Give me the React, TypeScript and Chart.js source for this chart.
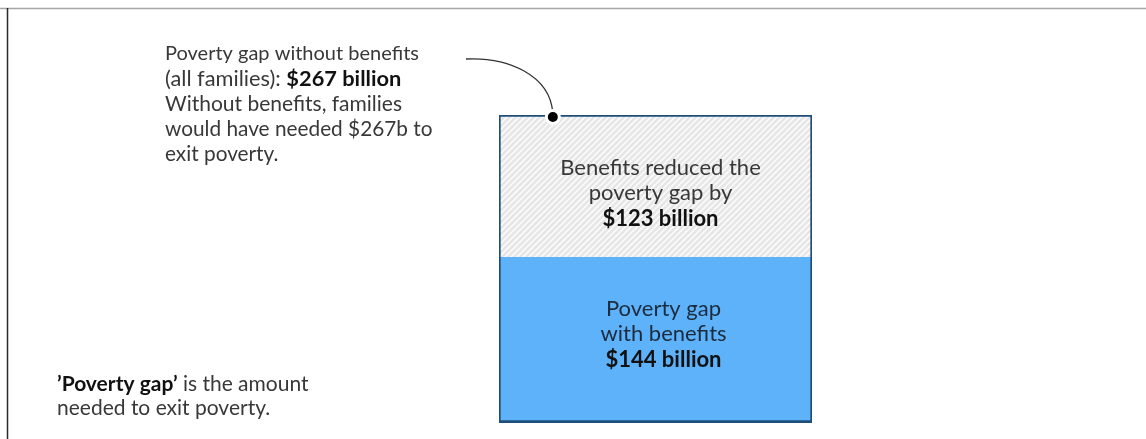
import React, { useEffect, useRef } from "react";
import { Chart, registerables } from "chart.js";

Chart.register(...registerables);

const categories = ["All families"];
const gapWithBenefits = [144];
const reducedByBenefits = [123];
const gapWithoutBenefits = [267];

const seriesNames = ["Poverty gap with benefits", "Benefits reduced the poverty gap"];

const FONT = "Lato, 'Open Sans', sans-serif";
const BLUE = "rgb(93,178,250)";
const NAVY = "#1F4E79";

type Seg = { t: string; b?: boolean };

function drawLine(ctx: CanvasRenderingContext2D, segs: Seg[], x: number, y: number, size: number, align: "left" | "center", color: string, boldColor: string) {
  let total = 0;
  const widths = segs.map((s) => {
    ctx.font = `${s.b ? "bold " : ""}${size}px ${FONT}`;
    const w = ctx.measureText(s.t).width;
    total += w;
    return w;
  });
  let cx = align === "center" ? x - total / 2 : x;
  segs.forEach((s, i) => {
    ctx.font = `${s.b ? "bold " : ""}${size}px ${FONT}`;
    ctx.fillStyle = s.b ? boldColor : color;
    ctx.textAlign = "left";
    ctx.textBaseline = "middle";
    ctx.fillText(s.t, cx, y);
    cx += widths[i];
  });
}

function makeHatch(): CanvasPattern | string {
  const c = document.createElement("canvas");
  c.width = 6;
  c.height = 6;
  const g = c.getContext("2d");
  if (!g) return "#e8e8e8";
  g.fillStyle = "#e6e6e6";
  g.fillRect(0, 0, 6, 6);
  g.strokeStyle = "#fbfbfb";
  g.lineWidth = 1.6;
  g.beginPath();
  g.moveTo(-1, 7);
  g.lineTo(7, -1);
  g.moveTo(-4, 4);
  g.lineTo(4, -4);
  g.moveTo(2, 10);
  g.lineTo(10, 2);
  g.stroke();
  const p = g.createPattern(c, "repeat");
  return p || "#e8e8e8";
}

const annotationPlugin = {
  id: "annotations",
  beforeDraw(chart: any) {
    const ctx = chart.ctx as CanvasRenderingContext2D;
    ctx.save();
    ctx.fillStyle = "#ffffff";
    ctx.fillRect(0, 0, chart.width, chart.height);
    ctx.strokeStyle = "#a6a6a6";
    ctx.lineWidth = 1.5;
    ctx.beginPath();
    ctx.moveTo(0, 8.5);
    ctx.lineTo(chart.width, 8.5);
    ctx.stroke();
    ctx.strokeStyle = "#2b2b2b";
    ctx.lineWidth = 1.5;
    ctx.beginPath();
    ctx.moveTo(7.5, 8);
    ctx.lineTo(7.5, chart.height);
    ctx.stroke();
    ctx.restore();
  },
  afterDraw(chart: any) {
    const ctx = chart.ctx as CanvasRenderingContext2D;
    const meta0 = chart.getDatasetMeta(0).data[0];
    const meta1 = chart.getDatasetMeta(1).data[0];
    const yScale = chart.scales.y;
    ctx.save();
    const size = 20;
    const inSize = 22;
    const txt = "#383838";
    const bold = "#111111";
    // inside top segment
    const topMid = (meta1.y + meta1.base) / 2;
    const cx = meta1.x + 5;
    drawLine(ctx, [{ t: "Benefits reduced the" }], cx, topMid - 18, inSize, "center", txt, bold);
    drawLine(ctx, [{ t: "poverty gap by" }], cx, topMid + 7, inSize, "center", txt, bold);
    drawLine(ctx, [{ t: `$${reducedByBenefits[0]} billion`, b: true }], cx, topMid + 33, inSize, "center", txt, bold);
    // inside bottom segment
    const botMid = (meta0.y + meta0.base) / 2;
    const cx0 = meta0.x + 8;
    drawLine(ctx, [{ t: "Poverty gap" }], cx0, botMid - 31, inSize, "center", "#1c2b3d", bold);
    drawLine(ctx, [{ t: "with benefits" }], cx0, botMid - 6, inSize, "center", "#1c2b3d", bold);
    drawLine(ctx, [{ t: `$${gapWithBenefits[0]} billion`, b: true }], cx0, botMid + 20, inSize, "center", "#1c2b3d", bold);

    // left annotation
    const lx = 165;
    drawLine(ctx, [{ t: "Poverty gap without benefits" }], lx, 54, size, "left", txt, bold);
    drawLine(ctx, [{ t: "(all families): " }, { t: `$${gapWithoutBenefits[0]} billion`, b: true }], lx, 79, size + 1.8, "left", txt, bold);
    drawLine(ctx, [{ t: "Without benefits, families" }], lx, 104, size + 1, "left", txt, bold);
    drawLine(ctx, [{ t: `would have needed $${gapWithoutBenefits[0]}b to` }], lx, 129, size + 0.8, "left", txt, bold);
    drawLine(ctx, [{ t: "exit poverty." }], lx, 154, size + 0.8, "left", txt, bold);

    // footnote
    drawLine(ctx, [{ t: "\u2019Poverty gap\u2019", b: true }, { t: " is the amount" }], 57, 384, 21, "left", txt, bold);
    drawLine(ctx, [{ t: "needed to exit poverty." }], 57, 408, 21, "left", txt, bold);

    // connector
    const left = meta1.x - meta1.width / 2;
    const dotX = left + meta1.width * 0.172;
    const dotY = yScale.getPixelForValue(gapWithoutBenefits[0]) + 2;
    ctx.strokeStyle = "#333333";
    ctx.lineWidth = 1.3;
    ctx.beginPath();
    ctx.moveTo(466, 59);
    ctx.bezierCurveTo(508, 57, 550, 75, dotX, dotY - 4);
    ctx.stroke();
    ctx.fillStyle = "#ffffff";
    ctx.beginPath();
    ctx.arc(dotX, dotY, 8, 0, Math.PI * 2);
    ctx.fill();
    ctx.fillStyle = "#000000";
    ctx.beginPath();
    ctx.arc(dotX, dotY, 5, 0, Math.PI * 2);
    ctx.fill();
    ctx.restore();
  },
};

export default function App() {
  const ref = useRef<HTMLCanvasElement | null>(null);
  useEffect(() => {
    if (!ref.current) return;
    const chart = new Chart(ref.current, {
      type: "bar",
      data: {
        labels: categories,
        datasets: [
          {
            label: seriesNames[0],
            data: gapWithBenefits,
            backgroundColor: BLUE,
            borderColor: NAVY,
            borderWidth: { left: 2, right: 2, top: 0, bottom: 3 },
            borderSkipped: false,
            barPercentage: 1,
            categoryPercentage: 1,
          },
          {
            label: seriesNames[1],
            data: reducedByBenefits,
            backgroundColor: makeHatch() as any,
            borderColor: NAVY,
            borderWidth: { left: 2, right: 2, top: 2, bottom: 0 },
            borderSkipped: false,
            barPercentage: 1,
            categoryPercentage: 1,
          },
        ],
      },
      options: {
        responsive: false,
        animation: false,
        devicePixelRatio: 1,
        layout: { padding: { left: 499, right: 334, top: 115, bottom: 16 } },
        plugins: { legend: { display: false }, tooltip: { enabled: false } },
        scales: {
          x: { stacked: true, display: false },
          y: { stacked: true, display: false, min: 0, max: gapWithoutBenefits[0] },
        },
      },
      plugins: [annotationPlugin],
    });
    return () => chart.destroy();
  }, []);
  return (
    <div style={{ position: "absolute", left: 0, top: 0, width: 1146, height: 439 }}>
      <canvas ref={ref} width={1146} height={439} style={{ display: "block" }} />
    </div>
  );
}
